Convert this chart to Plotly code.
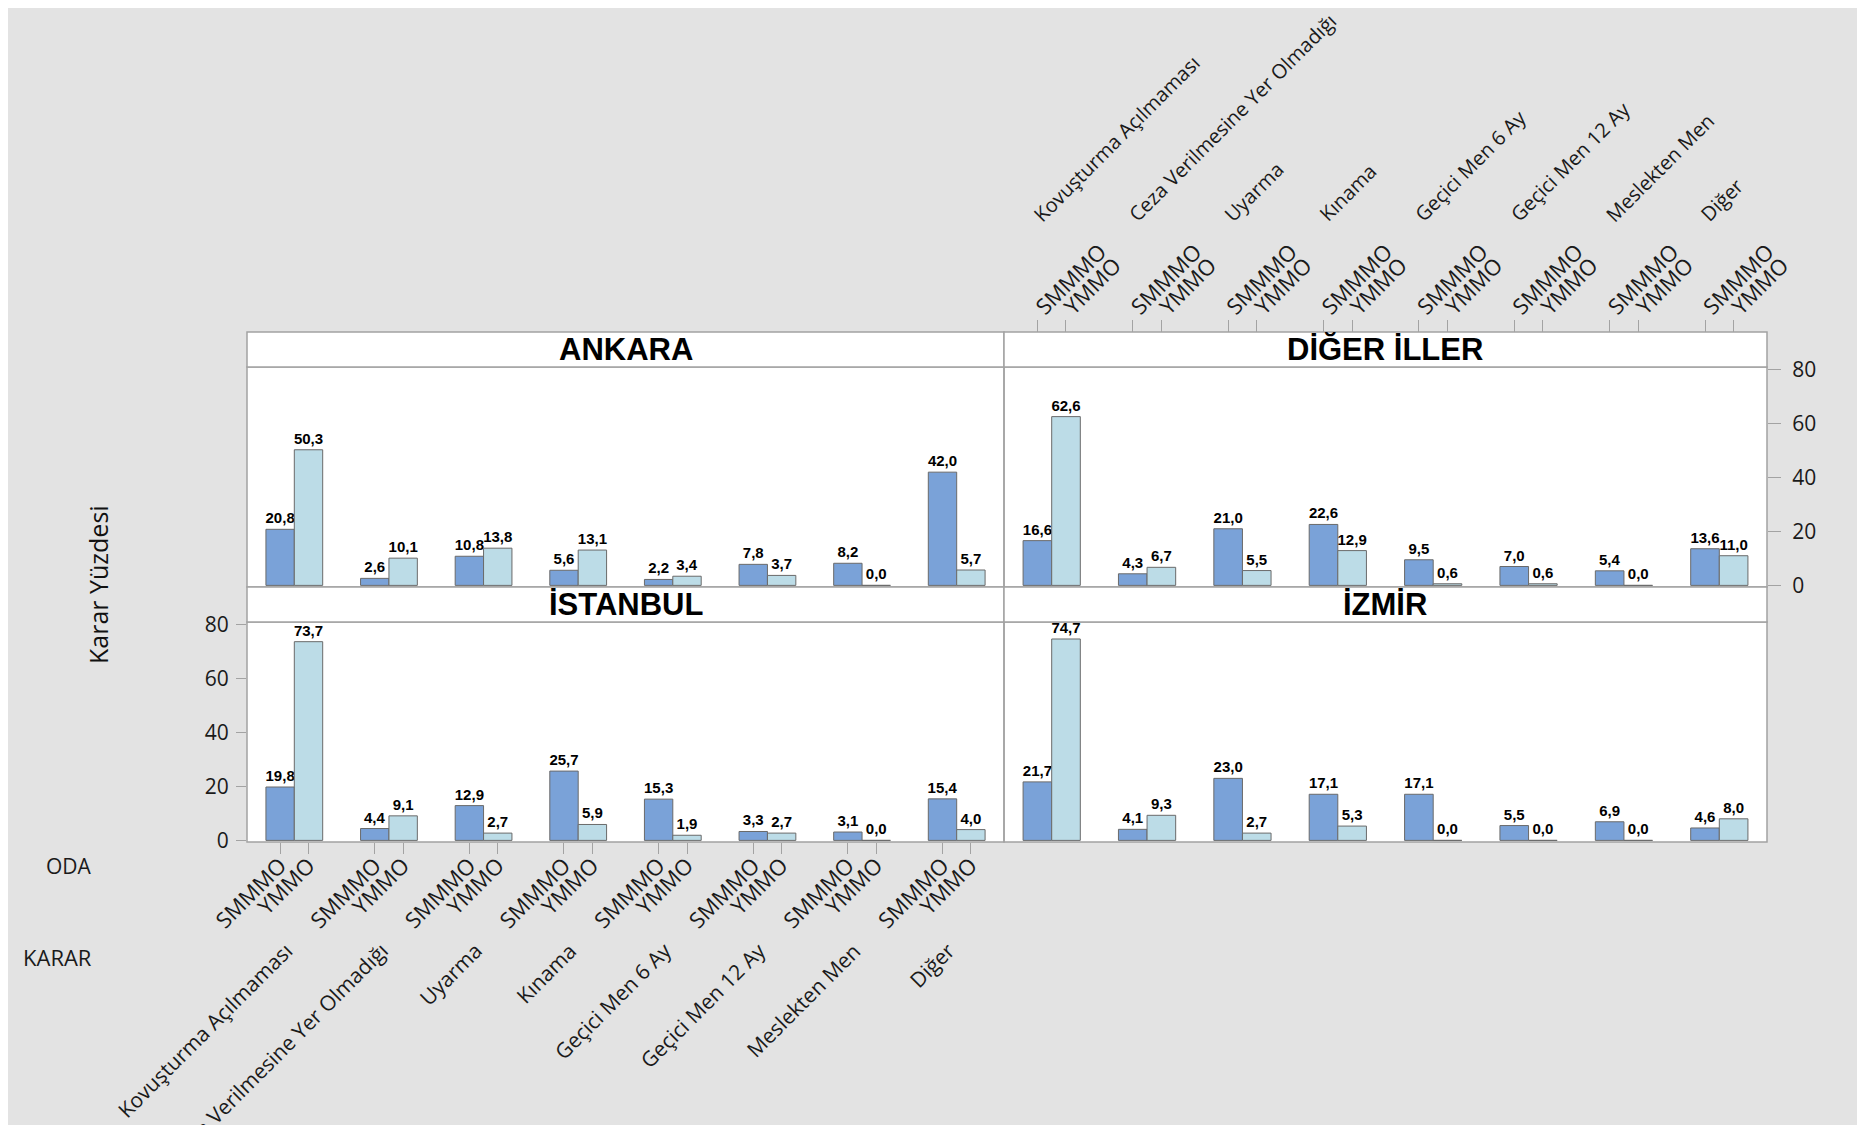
import plotly.graph_objects as go

# ---------------- data ----------------
categories = ["Kovuşturma Açılmaması", "Ceza Verilmesine Yer Olmadığı", "Uyarma", "Kınama",
              "Geçici Men 6 Ay", "Geçici Men 12 Ay", "Meslekten Men", "Diğer"]
odalar = ["SMMMO", "YMMO"]
iller = ["ANKARA", "DİĞER İLLER", "İSTANBUL", "İZMİR"]

ankara_smmmo = [20.8, 2.6, 10.8, 5.6, 2.2, 7.8, 8.2, 42.0]
ankara_ymmo = [50.3, 10.1, 13.8, 13.1, 3.4, 3.7, 0.0, 5.7]
diger_smmmo = [16.6, 4.3, 21.0, 22.6, 9.5, 7.0, 5.4, 13.6]
diger_ymmo = [62.6, 6.7, 5.5, 12.9, 0.6, 0.6, 0.0, 11.0]
istanbul_smmmo = [19.8, 4.4, 12.9, 25.7, 15.3, 3.3, 3.1, 15.4]
istanbul_ymmo = [73.7, 9.1, 2.7, 5.9, 1.9, 2.7, 0.0, 4.0]
izmir_smmmo = [21.7, 4.1, 23.0, 17.1, 17.1, 5.5, 6.9, 4.6]
izmir_ymmo = [74.7, 9.3, 2.7, 5.3, 0.0, 0.0, 0.0, 8.0]

y_ticks = [0, 20, 40, 60, 80]

panel_data = [
    (ankara_smmmo, ankara_ymmo),
    (diger_smmmo, diger_ymmo),
    (istanbul_smmmo, istanbul_ymmo),
    (izmir_smmmo, izmir_ymmo),
]

# ---------------- style ----------------
W, H = 1865, 1125
OFF = 8  # page margin of the browser body
BG = "#E3E3E3"
C_SM = "#7AA2D8"
C_YM = "#BCDCE7"
BAR_LINE = "#6A6A6A"
BORDER = "#A3A3A3"
SANS = "Open Sans, DejaVu Sans, sans-serif"
TICKFONT = dict(family=SANS, size=21, color="#1a1a1a")
ODAFONT = dict(family=SANS, size=22, color="#1a1a1a")
CATFONT_TOP = dict(family=SANS, size=20, color="#1a1a1a")
CATFONT_BOT = dict(family=SANS, size=21, color="#1a1a1a")
LABELFONT = dict(family="Liberation Sans, Arial, sans-serif", size=15, color="#000000")
STRIPFONT = dict(family="Liberation Sans, Arial, sans-serif", size=31, color="#000000")


def fx(px):
    return (px - OFF) / W


def fy(py):
    return 1 - (py - OFF) / H


cols = [(247, 1004), (1004, 1767)]
rows_plot = [(367, 587), (622, 842)]
rows_strip = [(332, 367), (587, 622)]

n = len(categories)
idx = list(range(n))
BW = 0.3
tick_pos = []
tick_txt = []
for i in idx:
    tick_pos += [i - BW / 2, i + BW / 2]
    tick_txt += odalar


def fmt(v):
    return f"{v:.1f}".replace(".", ",")


fig = go.Figure()

for k, (sm, ym) in enumerate(panel_data):
    xa = "x" if k == 0 else f"x{k + 1}"
    ya = "y" if k == 0 else f"y{k + 1}"
    for vals, col, name in ((sm, C_SM, odalar[0]), (ym, C_YM, odalar[1])):
        fig.add_trace(go.Bar(
            x=idx, y=vals, name=name, xaxis=xa, yaxis=ya,
            marker=dict(color=col, line=dict(color=BAR_LINE, width=1)),
            text=[fmt(v) for v in vals], texttemplate="<b>%{text}</b>",
            textposition="outside", textfont=LABELFONT, cliponaxis=False,
            constraintext="none", showlegend=False, offsetgroup=name,
        ))

layout = dict(
    width=W, height=H, autosize=False, margin=dict(l=0, r=0, t=0, b=0, pad=0),
    paper_bgcolor=BG, plot_bgcolor="white",
    barmode="group", bargap=0.4, bargroupgap=0,
    showlegend=False,
)

axis_common_x = dict(range=[-0.5, n - 0.5], showgrid=False, zeroline=False, showline=False,
                     fixedrange=True, automargin=False)
axis_common_y = dict(range=[-0.6, 81], showgrid=False, zeroline=False, showline=False,
                     fixedrange=True, automargin=False)

for k in range(4):
    r, c = divmod(k, 2)
    xs = "xaxis" if k == 0 else f"xaxis{k + 1}"
    ys = "yaxis" if k == 0 else f"yaxis{k + 1}"
    xa = "x" if k == 0 else f"x{k + 1}"
    ya = "y" if k == 0 else f"y{k + 1}"
    x0, x1 = cols[c]
    y0, y1 = rows_plot[r]
    xd = dict(axis_common_x, domain=[fx(x0), fx(x1)], anchor=ya,
              showticklabels=False, ticks="")
    yd = dict(axis_common_y, domain=[fy(y1), fy(y0)], anchor=xa,
              showticklabels=False, ticks="")
    layout[xs] = xd
    layout[ys] = yd

layout["xaxis2"].update(side="top", anchor="free", position=fy(332), ticks="outside",
                        ticklen=12, tickcolor=BORDER, tickwidth=1,
                        tickmode="array", tickvals=tick_pos, ticktext=tick_txt,
                        showticklabels=True, tickangle=-45, tickfont=ODAFONT,
                        ticklabelstandoff=-8)
layout["yaxis2"].update(side="right", ticks="outside", ticklen=13, tickcolor=BORDER,
                        tickmode="array", tickvals=y_ticks, showticklabels=True,
                        tickfont=TICKFONT, ticklabelstandoff=7)
layout["xaxis3"].update(side="bottom", ticks="outside", ticklen=11, tickcolor=BORDER,
                        tickmode="array", tickvals=tick_pos, ticktext=tick_txt,
                        showticklabels=True, tickangle=-45, tickfont=ODAFONT,
                        ticklabelstandoff=-10)
layout["yaxis3"].update(side="left", ticks="outside", ticklen=10, tickcolor=BORDER,
                        tickmode="array", tickvals=y_ticks, showticklabels=True,
                        tickfont=TICKFONT, ticklabelstandoff=3)

shapes = []
annotations = []

for k, il in enumerate(iller):
    r, c = divmod(k, 2)
    x0, x1 = cols[c]
    py0, py1 = rows_plot[r]
    sy0, sy1 = rows_strip[r]
    shapes.append(dict(type="rect", xref="paper", yref="paper",
                       x0=fx(x0), x1=fx(x1), y0=fy(py1), y1=fy(py0),
                       line=dict(color=BORDER, width=1.5), fillcolor="rgba(0,0,0,0)",
                       layer="above"))
    shapes.append(dict(type="rect", xref="paper", yref="paper",
                       x0=fx(x0), x1=fx(x1), y0=fy(sy1), y1=fy(sy0),
                       line=dict(color=BORDER, width=1.5), fillcolor="white",
                       layer="above"))
    annotations.append(dict(xref="paper", yref="paper", x=(fx(x0) + fx(x1)) / 2,
                            y=(fy(sy0) + fy(sy1)) / 2, text=f"<b>{il}</b>",
                            showarrow=False, font=STRIPFONT, xanchor="center",
                            yanchor="middle"))

for i, cat in enumerate(categories):
    annotations.append(dict(xref="x2", yref="paper", x=i, y=fy(230), xshift=-27,
                            text=cat, textangle=-45, showarrow=False, font=CATFONT_TOP,
                            xanchor="left", yanchor="bottom"))
    annotations.append(dict(xref="x3", yref="paper", x=i, y=fy(934), xshift=7,
                            text=cat, textangle=-45, showarrow=False, font=CATFONT_BOT,
                            xanchor="right", yanchor="top"))

annotations.append(dict(xref="paper", yref="paper", x=fx(44), y=fy(866), text="ODA",
                        showarrow=False, font=dict(CATFONT_BOT, size=21), xanchor="left",
                        yanchor="middle"))
annotations.append(dict(xref="paper", yref="paper", x=fx(21), y=fy(957), text="KARAR",
                        showarrow=False, font=dict(CATFONT_BOT, size=22), xanchor="left",
                        yanchor="middle"))
annotations.append(dict(xref="paper", yref="paper", x=fx(98), y=fy(585),
                        text="Karar Yüzdesi", textangle=-90, showarrow=False,
                        font=dict(family=SANS, size=25, color="#111"),
                        xanchor="center", yanchor="middle"))

layout["shapes"] = shapes
layout["annotations"] = annotations
fig.update_layout(**layout)

fig.write_html("out.html")
